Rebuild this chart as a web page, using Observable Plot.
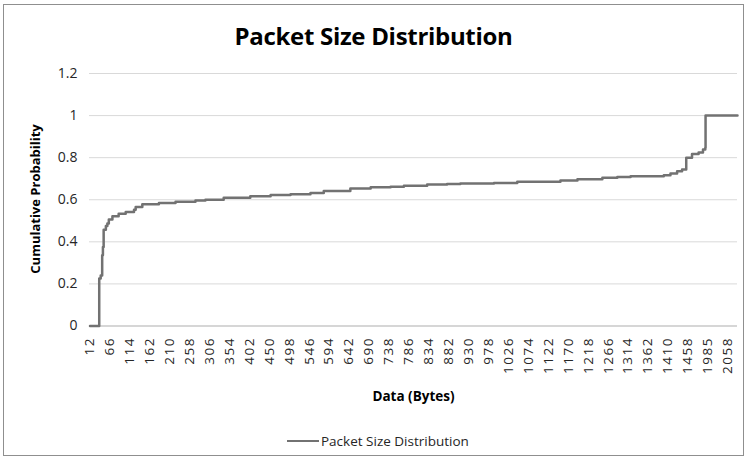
<!DOCTYPE html>
<html>
<head>
<meta charset="utf-8">
<script src="https://cdn.jsdelivr.net/npm/d3@7"></script>
<script src="https://cdn.jsdelivr.net/npm/@observablehq/plot@0.6"></script>
<style>
  body { margin: 0; background: #fff; }
  #chart { position: relative; width: 747px; height: 460px; font-family: "Open Sans", Lato, sans-serif; color: #262626; overflow: hidden; }
  #frame { position: absolute; left: 3px; top: 4px; width: 741px; height: 452px; border: 1px solid #8f8f8f; box-sizing: border-box; }
  #title { position: absolute; left: 0; top: 20px; width: 747px; text-align: center; font-weight: bold; font-size: 24px; color: #000; line-height: 32px; letter-spacing: -0.3px; }
  #plot { position: absolute; left: 0; top: 55px; }
  #ylabel { position: absolute; left: 35px; top: 199px; transform: translate(-50%, -50%) rotate(-90deg); font-weight: bold; font-size: 13px; white-space: nowrap; color: #000; }
  #xlabel { position: absolute; left: 0; width: 827px; top: 387px; text-align: center; font-weight: bold; font-size: 13.5px; color: #000; line-height: 18px; }
  #legend { position: absolute; left: 287px; top: 432px; display: flex; align-items: center; font-size: 13.5px; line-height: 18px; }
  #legend .swatch { width: 32px; height: 0; border-top: 2.5px solid #727272; margin-right: 2px; }
</style>
</head>
<body>
<div id="chart">
  <div id="frame"></div>
  <div id="title">Packet Size Distribution</div>
  <div id="plot"></div>
  <div id="ylabel">Cumulative Probability</div>
  <div id="xlabel">Data (Bytes)</div>
  <div id="legend"><span class="swatch"></span><span>Packet Size Distribution</span></div>
</div>
<script>
// Category labels shown under the x axis (every 48th packet size)
const tickLabels = [12, 66, 114, 162, 210, 258, 306, 354, 402, 450, 498, 546, 594, 642, 690,
  738, 786, 834, 882, 930, 978, 1026, 1074, 1122, 1170, 1218, 1266, 1314, 1362, 1410, 1458, 1985, 2058];

// Cumulative distribution: packet size (bytes) and probability from that size onward
const packetBytes = [12, 37, 41, 45, 47, 49, 55, 59, 63, 72, 87, 104, 124, 128, 144, 184, 224,
  272, 296, 340, 404, 453, 501, 549, 581, 645, 694, 742, 774, 830, 878, 910, 991, 1047, 1151,
  1192, 1252, 1288, 1320, 1400, 1416, 1432, 1444, 1454, 1567, 1741, 1857, 1918, 1925, 2090];
const cumulativeProb = [0, 0.226, 0.240, 0.336, 0.375, 0.458, 0.475, 0.487, 0.506, 0.521, 0.534,
  0.542, 0.553, 0.566, 0.579, 0.585, 0.590, 0.596, 0.600, 0.610, 0.617, 0.623, 0.626, 0.632,
  0.642, 0.653, 0.659, 0.662, 0.666, 0.672, 0.675, 0.677, 0.680, 0.686, 0.691, 0.697, 0.704,
  0.708, 0.712, 0.717, 0.725, 0.736, 0.744, 0.80, 0.817, 0.825, 0.839, 0.847, 1.0, 1.0];

const yTicks = [0, 0.2, 0.4, 0.6, 0.8, 1, 1.2];

const data = packetBytes.map((b, i) => ({bytes: b, p: cumulativeProb[i]}));

// The x axis is a category axis: labelled sizes sit at equal steps,
// so the scale is piecewise linear between the labelled sizes.
const plotLeft = 89, plotRight = 737;
const firstTick = 89.5, tickStep = 19.93;
const lastSize = packetBytes[packetBytes.length - 1];
const xDomain = tickLabels.concat([lastSize]);
const xRange = tickLabels.map((_, i) => firstTick + i * tickStep).concat([plotRight]);

const chart = Plot.plot({
  width: 747,
  height: 365,
  marginLeft: plotLeft,
  marginRight: 747 - plotRight,
  marginTop: 18,
  marginBottom: 94.5,
  style: {fontFamily: "'Open Sans', Lato, sans-serif", color: "#262626", background: "transparent"},
  x: {type: "linear", domain: xDomain, range: xRange},
  y: {domain: [0, 1.2]},
  marks: [
    Plot.gridY(yTicks, {stroke: "#d9d9d9", strokeOpacity: 1, strokeWidth: 1}),
    Plot.ruleY([0], {stroke: "#c0c0c0", strokeWidth: 1}),
    Plot.axisY(yTicks, {tickSize: 0, tickPadding: 12, fontSize: 14, label: null, tickFormat: d => String(d)}),
    Plot.axisX(tickLabels, {tickSize: 0, tickPadding: 11, tickRotate: -90, fontSize: 13.5, label: null, tickFormat: d => String(d)}),
    Plot.line(data, {x: "bytes", y: "p", curve: "step-after", stroke: "#727272", strokeWidth: 2.5})
  ]
});
// Category labels in this style are set with wide digit spacing
d3.select(chart).selectAll('g[aria-label="x-axis tick label"] text').attr("letter-spacing", "1.5px");
document.getElementById("plot").append(chart);
</script>
</body>
</html>
